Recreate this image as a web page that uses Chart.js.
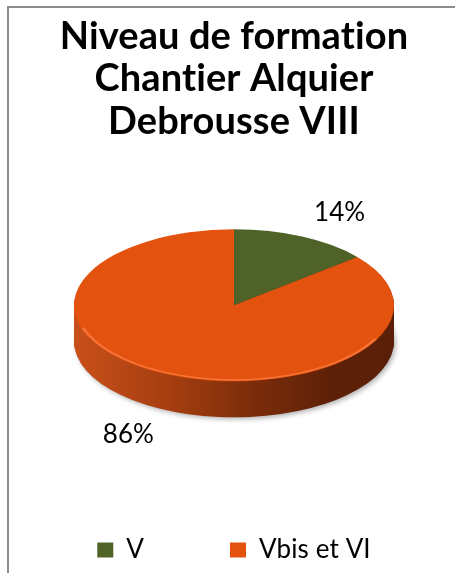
<!DOCTYPE html>
<html>
<head>
<meta charset="utf-8">
<script src="https://cdn.jsdelivr.net/npm/chart.js"></script>
<style>
  html, body { margin: 0; padding: 0; background: #fff; overflow: hidden; }
  #frame {
    position: absolute; left: 7px; top: 6px; width: 460px; height: 567px;
    border-left: 2px solid #8c8c8c; border-top: 2px solid #8c8c8c;
  }
  canvas { display: block; }
</style>
</head>
<body>
<div id="frame"><canvas id="chart" width="450" height="565"></canvas></div>
<script>
var titleLines = ['Niveau de formation', 'Chantier Alquier', 'Debrousse VIII'];
var categories = ['V', 'Vbis et VI'];
var percentages = [14, 86];
var sliceColors = ['#4F6228', '#E3520F'];

var tilt = 0.475;   // vertical squash of the pie (3d look)
var depth = 36;     // thickness of the pie in px

// dark side wall, lighter on the left, almost brown on the right
function sideFill(ctx, arc, i) {
    var g = ctx.createLinearGradient(arc.x - arc.outerRadius, 0, arc.x + arc.outerRadius, 0);
    if (i === 0) {
        g.addColorStop(0, '#43541f');
        g.addColorStop(1, '#26300f');
    } else {
        g.addColorStop(0, '#c9501a');
        g.addColorStop(0.3, '#a63e10');
        g.addColorStop(0.55, '#7c2d0a');
        g.addColorStop(0.8, '#5e2108');
        g.addColorStop(1, '#5a1f08');
    }
    return g;
}

// tiny letter spacing keeps Lato from using its "ti" ligature
function spacing(chart) {
    chart.ctx.letterSpacing = '0.1px';
}

var pie3d = {
    id: 'pie3d',
    beforeLayout: spacing,
    beforeDraw: spacing,
    beforeDatasetsDraw: function(chart) {
        var ctx = chart.ctx;
        var arcs = chart.getDatasetMeta(0).data;
        var cy = arcs[0].y;
        ctx.save();
        ctx.translate(0, cy);
        ctx.scale(1, tilt);
        ctx.translate(0, -cy);

        for (var d = depth; d > 0; d--) {
            arcs.forEach(function(arc, i) {
                var s = d / tilt;
                ctx.save();
                if (d === depth) {
                    ctx.shadowColor = 'rgba(0,0,0,0.3)';
                    ctx.shadowBlur = 5;
                    ctx.shadowOffsetX = 2;
                    ctx.shadowOffsetY = 2;
                }
                ctx.beginPath();
                ctx.moveTo(arc.x, arc.y + s);
                ctx.arc(arc.x, arc.y + s, arc.outerRadius, arc.startAngle, arc.endAngle);
                ctx.closePath();
                ctx.fillStyle = sideFill(ctx, arc, i);
                ctx.fill();
                ctx.restore();
            });
        }
    },
    afterDatasetsDraw: function(chart) {
        var ctx = chart.ctx;
        var arc = chart.getDatasetMeta(0).data[1];
        // light rim on the front edge
        ctx.beginPath();
        ctx.arc(arc.x, arc.y - 2, arc.outerRadius - 1, Math.PI * 0.15, Math.PI * 0.9);
        ctx.strokeStyle = 'rgba(255,130,70,0.7)';
        ctx.lineWidth = 3;
        ctx.stroke();
        ctx.restore();
    },
    afterDraw: function(chart) {
        var ctx = chart.ctx;
        var arcs = chart.getDatasetMeta(0).data;
        ctx.save();
        ctx.font = '26px Lato';
        ctx.fillStyle = '#000';
        ctx.textAlign = 'center';
        ctx.textBaseline = 'middle';
        arcs.forEach(function(arc, i) {
            var mid = (arc.startAngle + arc.endAngle) / 2;
            var c = Math.cos(mid), s = Math.sin(mid);
            var text = Math.round(percentages[i]) + '%';
            var w = ctx.measureText(text).width;
            var x = arc.x + c * (arc.outerRadius * 1.39 + w / 2);
            var y = arc.y + s * (arc.outerRadius * tilt * 1.22 + 10) + (s > 0 ? depth : 0);
            ctx.fillText(text, x, y);
        });
        ctx.restore();
    }
};

var ctx = document.getElementById('chart').getContext('2d');
var chart = new Chart(ctx, {
    type: 'pie',
    data: {
        labels: categories,
        datasets: [{
            data: percentages,
            backgroundColor: sliceColors,
            borderWidth: 0,
            radius: 160,
            clip: false
        }]
    },
    options: {
        responsive: false,
        animation: false,
        events: [],
        layout: { padding: 0 },
        plugins: {
            title: {
                display: true,
                text: titleLines,
                color: '#000',
                font: { family: 'Lato', size: 38, weight: 'bold', lineHeight: 1.12 },
                padding: { top: 7, bottom: 17 }
            },
            legend: {
                position: 'bottom',
                align: 'center',
                maxHeight: 131,
                labels: {
                    color: '#000',
                    font: { family: 'Lato', size: 26 },
                    boxWidth: 16,
                    boxHeight: 15,
                    padding: 86
                }
            },
            tooltip: { enabled: false }
        }
    },
    plugins: [pie3d]
});
</script>
</body>
</html>
